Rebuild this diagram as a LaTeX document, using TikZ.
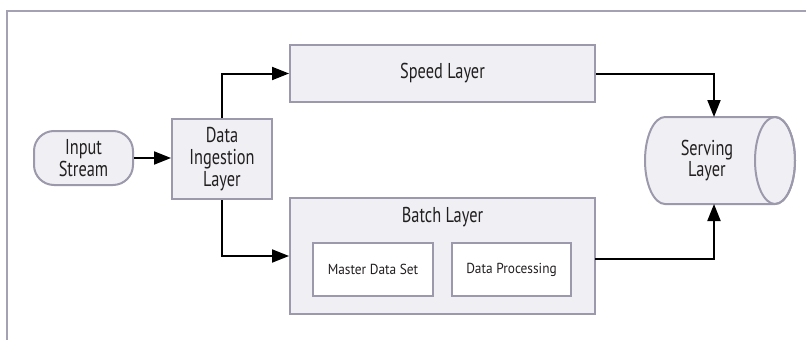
\documentclass[tikz,border=0pt]{standalone}
\usepackage{fontspec}
\usepackage{graphicx}
\setmainfont{PT Sans}
\usetikzlibrary{arrows.meta}
\newcommand{\cnd}[1]{\scalebox{0.76}[1]{#1}}
\newcommand{\cns}[1]{\scalebox{0.92}[1]{#1}}
\definecolor{boxfill}{HTML}{F0F0F4}
\definecolor{boxline}{HTML}{9B99AB}
\definecolor{frameline}{HTML}{A4A2B2}
\definecolor{txt}{HTML}{231F20}
\tikzset{
  bigtext/.style={text=txt, font=\fontsize{21.5}{21.7}\selectfont},
  layerbox/.style={draw=boxline, fill=boxfill, line width=2pt, rectangle, align=center, inner sep=0pt, bigtext},
  innerbox/.style={draw=boxline, fill=white, line width=1.2pt, rectangle, inner sep=0pt, text=txt, font=\fontsize{14.5}{17}\selectfont},
  flow/.style={line width=2pt, -{Triangle[length=17pt,width=13pt]}},
}
\begin{document}
\begin{tikzpicture}[x=1pt,y=1pt]
\useasboundingbox (0,0) rectangle (806,-340);
% frame
\draw[frameline, line width=1.3pt] (7,-340) -- (7,-11) -- (806,-11);
% nodes
\node[layerbox, rounded corners=20pt, minimum width=99pt, minimum height=54pt] (in) at (83.5,-158) {\cnd{Input}\\\cnd{Stream}};
\node[layerbox, minimum width=100pt, minimum height=80pt] (ing) at (222,-159) {\cnd{Data}\\\cnd{Ingestion}\\\cnd{Layer}};
\node[layerbox, minimum width=305pt, minimum height=57pt] (speed) at (442.5,-73.5) {\cnd{Speed Layer}};
\node[layerbox, minimum width=305pt, minimum height=116pt] (batch) at (442.5,-256) {};
\node[bigtext] (btitle) at (442.5,-217) {\cnd{Batch Layer}};
\node[innerbox, minimum width=120pt, minimum height=53pt] (master) at (373,-269.5) {\cns{Master Data Set}};
\node[innerbox, minimum width=119pt, minimum height=53pt] (proc) at (511.5,-269.5) {\cns{Data Processing}};
% serving layer cylinder
\path[draw=boxline, fill=boxfill, line width=2pt]
  (665,-117) -- (775,-117) arc[start angle=90, end angle=-90, x radius=20, y radius=43.5]
  -- (665,-204) arc[start angle=270, end angle=90, x radius=20, y radius=43.5] -- cycle;
\draw[boxline, line width=2pt] (775,-160.5) ellipse[x radius=20, y radius=43.5];
\node[align=center, bigtext] (serve) at (707,-160.5) {\cnd{Serving}\\\cnd{Layer}};
\coordinate (servetop) at (714,-117);
\coordinate (servebot) at (714,-204);
\coordinate (batchout) at (595,-259);
% connectors
\draw[flow] (in.east) -- (ing.west |- in.east);
\draw[flow] (ing.north) |- (speed.west);
\draw[flow] (ing.south) |- (batch.west);
\draw[flow] (speed.east) -| (servetop);
\draw[flow] (batchout) -| (servebot);
\end{tikzpicture}
\end{document}
